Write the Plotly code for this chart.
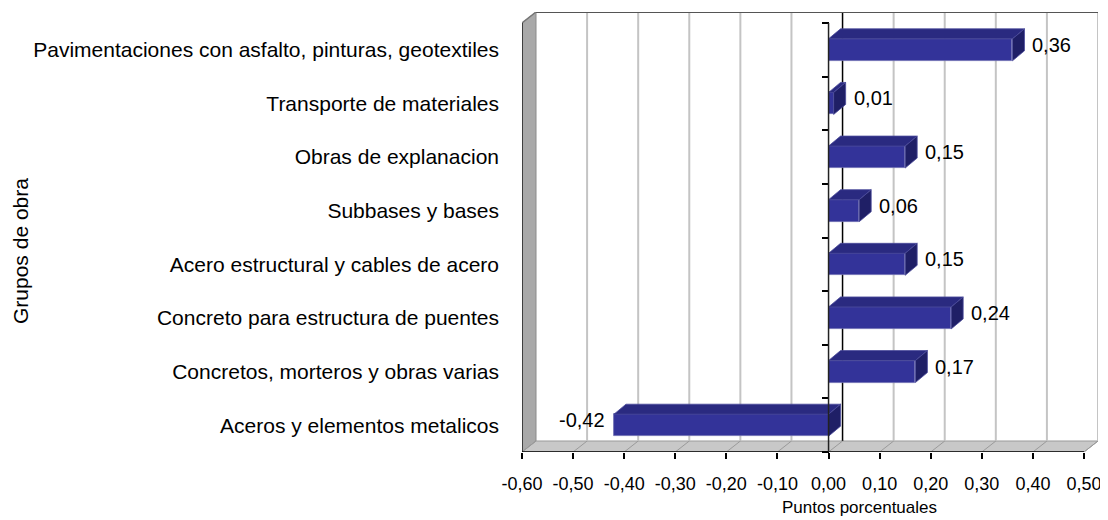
import plotly.graph_objects as go

# ---------------- data ----------------
categories = [
    "Aceros y elementos metalicos",
    "Concretos, morteros y obras varias",
    "Concreto para estructura de puentes",
    "Acero estructural y cables de acero",
    "Subbases y bases",
    "Obras de explanacion",
    "Transporte de materiales",
    "Pavimentaciones con asfalto, pinturas, geotextiles",
]
values = [-0.42, 0.17, 0.24, 0.15, 0.06, 0.15, 0.01, 0.36]
x_ticks = [-0.6, -0.5, -0.4, -0.3, -0.2, -0.1, 0.0, 0.1, 0.2, 0.3, 0.4, 0.5]
x_tick_labels = ["-0,60", "-0,50", "-0,40", "-0,30", "-0,20", "-0,10",
                 "0,00", "0,10", "0,20", "0,30", "0,40", "0,50"]
x_title = "Puntos porcentuales"
y_title = "Grupos de obra"

# ---------------- geometry / style ----------------
OFF = 8                      # default page body margin
W, H = 1108 - OFF, 520 - OFF
ML, MR, MT, MB = 522 - OFF, 10, 12 - OFF, 68
WDX, WDY = 14, 11      # wall depth in px
BDX, BDY = 12, 10      # bar depth in px
BAR_W = 0.41
XMIN, XMAX = x_ticks[0], x_ticks[-1]
N = len(categories)
PW, PH = W - ML - MR, H - MT - MB

px_x = (PW - WDX) / (XMAX - XMIN)
px_y = (PH - WDY) / N
wdx, wdy = WDX / px_x, WDY / px_y
bdx, bdy = BDX / px_x, BDY / px_y
xr = [XMIN, XMAX + wdx]
yr = [-0.5, N - 0.5 + wdy]
ybot, ytop = -0.5, N - 0.5

FONT = "Arial, Liberation Sans, sans-serif"
FRONT = "#333399"
TOP = "#2a2a80"
SIDE = "#1f1f66"

def path(pts):
    return "M " + " L ".join(f"{px},{py}" for px, py in pts) + " Z"

def paper_x(page_px):
    return (page_px - OFF - ML) / PW

def paper_y(page_py):
    return ((H - MB) - (page_py - OFF)) / PH

shapes = []
# left wall
shapes.append(dict(type="path", xref="x", yref="y", layer="below",
                   path=path([(XMIN, ybot), (XMIN, ytop), (XMIN + wdx, ytop + wdy), (XMIN + wdx, ybot + wdy)]),
                   fillcolor="#a9a9a9", line=dict(color="#8a8a8a", width=1)))
# floor
shapes.append(dict(type="path", xref="x", yref="y", layer="below",
                   path=path([(XMIN, ybot), (XMAX, ybot), (XMAX + wdx, ybot + wdy), (XMIN + wdx, ybot + wdy)]),
                   fillcolor="#c8c8c8", line=dict(color="#999999", width=1)))
# back-wall gridlines and floor diagonals
for v in x_ticks:
    col = "#000000" if abs(v) < 1e-9 else "#c4c4c4"
    wid = 1.5 if abs(v) < 1e-9 else 2
    if v != XMIN:
        shapes.append(dict(type="line", xref="x", yref="y", layer="below",
                           x0=v + wdx, x1=v + wdx, y0=ybot + wdy, y1=ytop + wdy,
                           line=dict(color=col, width=wid)))
    shapes.append(dict(type="line", xref="x", yref="y", layer="below",
                       x0=v, x1=v + wdx, y0=ybot, y1=ybot + wdy,
                       line=dict(color="#9a9a9a", width=1)))
# top border of back wall and left wall top edge
shapes.append(dict(type="line", xref="x", yref="y", layer="below",
                   x0=XMIN + wdx, x1=XMAX + wdx, y0=ytop + wdy, y1=ytop + wdy,
                   line=dict(color="#555555", width=2)))
shapes.append(dict(type="line", xref="x", yref="y", layer="below",
                   x0=XMIN, x1=XMIN + wdx, y0=ytop, y1=ytop + wdy,
                   line=dict(color="#777777", width=1.5)))
# left wall front edge
shapes.append(dict(type="line", xref="x", yref="y", layer="below",
                   x0=XMIN, x1=XMIN, y0=ybot, y1=ytop,
                   line=dict(color="#222222", width=1.5)))
# front x axis line
shapes.append(dict(type="line", xref="x", yref="y", layer="above",
                   x0=XMIN, x1=XMAX, y0=ybot, y1=ybot,
                   line=dict(color="#000000", width=1.5)))
# bar top and side faces
h = BAR_W / 2
for i, v in enumerate(values):
    x0, x1 = min(0, v), max(0, v)
    shapes.append(dict(type="path", xref="x", yref="y", layer="above",
                       path=path([(x0, i + h), (x1, i + h), (x1 + bdx, i + h + bdy), (x0 + bdx, i + h + bdy)]),
                       fillcolor=TOP, line=dict(color="#4a4a9a", width=0.8)))
    shapes.append(dict(type="path", xref="x", yref="y", layer="above",
                       path=path([(x1, i - h), (x1 + bdx, i - h + bdy), (x1 + bdx, i + h + bdy), (x1, i + h)]),
                       fillcolor=SIDE, line=dict(color="#4a4a9a", width=0.8)))
# front category axis line at zero
shapes.append(dict(type="line", xref="x", yref="y", layer="above",
                   x0=0, x1=0, y0=ybot, y1=ytop,
                   line=dict(color="#222222", width=1.5)))

annotations = []
for i, v in enumerate(values):
    txt = f"{v:.2f}".replace(".", ",")
    if v >= 0:
        annotations.append(dict(x=v + bdx, y=i + bdy / 2, xref="x", yref="y", text=txt,
                                showarrow=False, xanchor="left", xshift=6,
                                font=dict(family=FONT, size=20, color="#000")))
    else:
        annotations.append(dict(x=v, y=i + bdy / 2, xref="x", yref="y", text=txt,
                                showarrow=False, xanchor="right", xshift=-7,
                                font=dict(family=FONT, size=20, color="#000")))
annotations.append(dict(x=paper_x(859), y=paper_y(508),
                        xref="paper", yref="paper", text=x_title, showarrow=False,
                        xanchor="center", yanchor="middle",
                        font=dict(family=FONT, size=17, color="#000")))
annotations.append(dict(x=paper_x(20), y=paper_y(251),
                        xref="paper", yref="paper", text=y_title, showarrow=False,
                        textangle=-90, xanchor="center", yanchor="middle",
                        font=dict(family=FONT, size=21, color="#000")))

fig = go.Figure()
fig.add_trace(go.Bar(
    x=values, y=list(range(N)), orientation="h", width=BAR_W,
    marker=dict(color=FRONT, line=dict(color="#6a6ab0", width=0.8)),
    hoverinfo="skip", showlegend=False,
))
fig.add_trace(go.Scatter(x=[None], y=[None], yaxis="y2", showlegend=False, hoverinfo="skip"))

fig.update_layout(
    width=W, height=H,
    margin=dict(l=ML, r=MR, t=MT, b=MB, pad=0),
    paper_bgcolor="white", plot_bgcolor="white",
    font=dict(family=FONT, color="#000"),
    shapes=shapes, annotations=annotations,
    xaxis=dict(range=xr, tickvals=x_ticks, ticktext=x_tick_labels,
               ticks="outside", ticklen=6, tickwidth=1.5, tickcolor="#000",
               showgrid=False, zeroline=False, showline=False,
               ticklabelstandoff=9, tickfont=dict(family=FONT, size=18, color="#000"),
               fixedrange=True),
    yaxis=dict(range=yr, tickvals=list(range(N)), ticktext=categories,
               ticks="", showgrid=False, zeroline=False, showline=False,
               ticklabelstandoff=22, tickfont=dict(family=FONT, size=21, color="#000"),
               fixedrange=True),
    yaxis2=dict(range=yr, overlaying="y", anchor="free", side="left",
                position=(0 - xr[0]) / (xr[1] - xr[0]),
                tickvals=[k - 0.5 for k in range(N + 1)],
                ticks="outside", ticklen=7, tickwidth=1.5, tickcolor="#000",
                showticklabels=False, showgrid=False, zeroline=False, showline=False,
                fixedrange=True),
    bargap=0,
)

fig.write_html("out.html")
